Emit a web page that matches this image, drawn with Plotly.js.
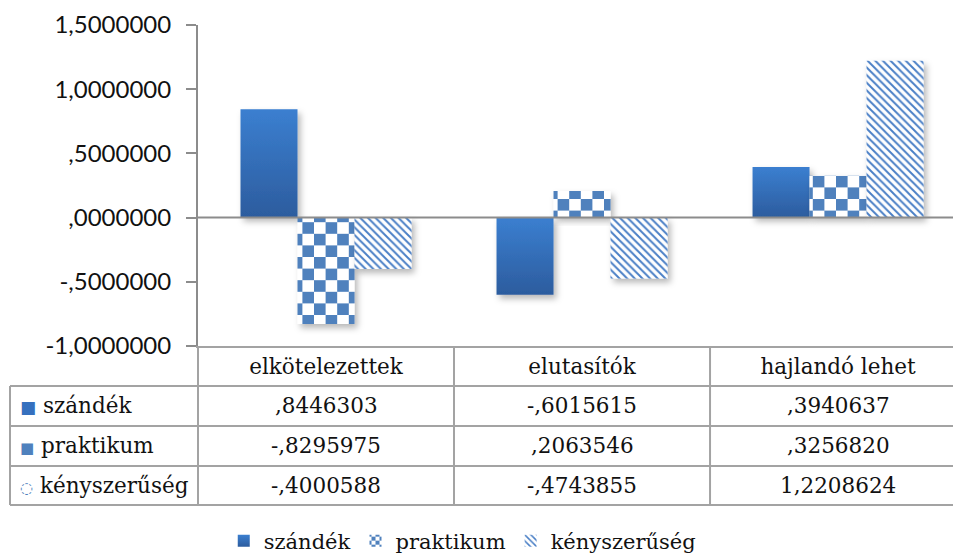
<!DOCTYPE html>
<html>
<head>
<meta charset="utf-8">
<script src="https://cdn.plot.ly/plotly-3.0.1.min.js"></script>
<style>
html,body{margin:0;padding:0;background:#fff;}
#chart{width:953px;height:555px;}
</style>
</head>
<body>
<div id="chart"></div>
<script>
// ---- data ----
var categories = ["elkötelezettek", "elutasítók", "hajlandó lehet"];
var seriesNames = ["szándék", "praktikum", "kényszerűség"];
var szandek = [0.8446303, -0.6015615, 0.3940637];
var praktikum = [-0.8295975, 0.2063546, 0.3256820];
var kenyszeruseg = [-0.4000588, -0.4743855, 1.2208624];
var yTickVals = [-1, -0.5, 0, 0.5, 1, 1.5];
var yTickText = ["-1,0000000", "-,5000000", ",0000000", ",5000000", "1,0000000", "1,5000000"];

var seriesValues = [szandek, praktikum, kenyszeruseg];

function fmt(v) {
  var s = Math.abs(v).toFixed(7).replace('.', ',');
  if (s.charAt(0) === '0') s = s.slice(1);
  return (v < 0 ? '-' : '') + s;
}

var serif = "DejaVu Serif, serif";
var gridColor = "#a3a3a3";
var blue = "#4f81bd";
var tableFontSize = 21.5;

var traces = [
  {type: 'bar', name: seriesNames[0], x: categories, y: szandek,
   marker: {color: '#3670be', line: {width: 0}}},
  {type: 'bar', name: seriesNames[1], x: categories, y: praktikum,
   marker: {color: blue, line: {width: 0},
            pattern: {shape: '+', size: 23.2, solidity: 0.5, fgcolor: blue, bgcolor: '#ffffff'}}},
  {type: 'bar', name: seriesNames[2], x: categories, y: kenyszeruseg,
   marker: {color: blue, line: {width: 0},
            pattern: {shape: '\\', size: 5.4, solidity: 0.36, fgcolor: '#4a7fc6', bgcolor: '#ffffff'}}}
];

// table geometry (paper coords relative to plot area)
var rowLines = [-0.1246, -0.2492, -0.3738, -0.4953];
var rowCenters = [-0.1869, -0.3115, -0.4346];
var tableLeft = -0.249;

var shapes = [];
rowLines.forEach(function (y) {
  shapes.push({type: 'line', xref: 'paper', yref: 'paper', x0: tableLeft, x1: 1, y0: y, y1: y,
               line: {color: gridColor, width: 2}});
});
shapes.push({type: 'line', xref: 'paper', yref: 'paper', x0: tableLeft, x1: tableLeft, y0: rowLines[0], y1: rowLines[3],
             line: {color: gridColor, width: 2}});
shapes.push({type: 'line', xref: 'paper', yref: 'paper', x0: 0, x1: 0, y0: 0, y1: rowLines[3],
             line: {color: gridColor, width: 2}});
for (var c = 0; c < categories.length - 1; c++) {
  shapes.push({type: 'line', xref: 'x', yref: 'paper', x0: c + 0.5, x1: c + 0.5, y0: 0, y1: rowLines[3],
               line: {color: gridColor, width: 2}});
}
shapes.push({type: 'line', xref: 'paper', yref: 'y', x0: 0, x1: 1, y0: 0, y1: 0, layer: 'above',
             line: {color: '#8c8c8c', width: 2}});

var annotations = [];
var keyGlyphs = [
  '<span style="color:#3670be;font-size:17px">■</span>',
  '<span style="color:#4f81bd;font-size:15px">■</span>',
  '<span style="color:#4f81bd;font-size:15px">◌</span>'
];
for (var s = 0; s < seriesNames.length; s++) {
  annotations.push({xref: 'paper', yref: 'paper', x: -0.2385, y: rowCenters[s], xanchor: 'left', yanchor: 'middle',
                    showarrow: false, text: keyGlyphs[s] + ' ' + seriesNames[s],
                    font: {family: serif, size: tableFontSize, color: '#111'}});
  for (var k = 0; k < categories.length; k++) {
    annotations.push({xref: 'x', yref: 'paper', x: k, y: rowCenters[s], xanchor: 'center', yanchor: 'middle',
                      showarrow: false, text: fmt(seriesValues[s][k]),
                      font: {family: serif, size: tableFontSize, color: '#111'}});
  }
}

var layout = {
  width: 953, height: 555,
  margin: {l: 198, r: 0, t: 25, b: 209, pad: 0, autoexpand: false},
  paper_bgcolor: '#ffffff', plot_bgcolor: '#ffffff',
  barmode: 'group', bargap: 0.332, bargroupgap: 0,
  showlegend: true,
  legend: {orientation: 'h', x: 0.35, xanchor: 'center', y: -0.6075, yanchor: 'middle',
           font: {family: serif, size: 21, color: '#111'}, traceorder: 'normal',
           itemwidth: 30, tracegroupgap: 0},
  xaxis: {type: 'category', range: [-0.5, 2.449], showgrid: false, zeroline: false,
          showline: true, linecolor: gridColor, linewidth: 2, ticks: '',
          tickfont: {family: serif, size: tableFontSize, color: '#111'}, ticklabelstandoff: 0,
          fixedrange: true},
  yaxis: {range: [-1, 1.5], tickvals: yTickVals, ticktext: yTickText,
          showgrid: false, zeroline: false, showline: true, linecolor: '#8c8c8c', linewidth: 2,
          ticks: 'outside', ticklen: 10, tickcolor: '#8c8c8c', tickwidth: 2,
          tickfont: {family: 'Lato, sans-serif', size: 24, color: '#111'}, ticklabelstandoff: 10,
          fixedrange: true},
  shapes: shapes,
  annotations: annotations
};

var gd = document.getElementById('chart');
Plotly.newPlot(gd, traces, layout, {staticPlot: true, displayModeBar: false}).then(function () {
  var NS = 'http://www.w3.org/2000/svg';
  var svg = gd.querySelector('svg.main-svg');
  var defs = svg.querySelector('defs');
  var grad = document.createElementNS(NS, 'linearGradient');
  grad.setAttribute('id', 'szGrad');
  grad.setAttribute('x1', '0'); grad.setAttribute('y1', '0');
  grad.setAttribute('x2', '0'); grad.setAttribute('y2', '1');
  [['0', '#3b7fd0'], ['1', '#2c5c9e']].forEach(function (st) {
    var stop = document.createElementNS(NS, 'stop');
    stop.setAttribute('offset', st[0]); stop.setAttribute('stop-color', st[1]);
    grad.appendChild(stop);
  });
  defs.appendChild(grad);
  var filt = document.createElementNS(NS, 'filter');
  filt.setAttribute('id', 'barShadow');
  filt.setAttribute('x', '-20%'); filt.setAttribute('y', '-20%');
  filt.setAttribute('width', '150%'); filt.setAttribute('height', '150%');
  var ds = document.createElementNS(NS, 'feDropShadow');
  ds.setAttribute('dx', '3'); ds.setAttribute('dy', '4'); ds.setAttribute('stdDeviation', '3');
  ds.setAttribute('flood-color', '#000'); ds.setAttribute('flood-opacity', '0.28');
  filt.appendChild(ds);
  defs.appendChild(filt);

  function checkerize(pat) {
    if (!pat || pat.getAttribute('data-checker')) return;
    var size = parseFloat(pat.getAttribute('width'));
    var half = size / 2;
    while (pat.firstChild) pat.removeChild(pat.firstChild);
    var bg = document.createElementNS(NS, 'rect');
    bg.setAttribute('width', size); bg.setAttribute('height', size); bg.setAttribute('fill', '#ffffff');
    pat.appendChild(bg);
    [[0, 0], [half, half]].forEach(function (xy) {
      var r = document.createElementNS(NS, 'rect');
      r.setAttribute('x', xy[0]); r.setAttribute('y', xy[1]);
      r.setAttribute('width', half); r.setAttribute('height', half);
      r.setAttribute('fill', '#4f81bd');
      pat.appendChild(r);
    });
    pat.setAttribute('data-checker', '1');
  }
  function patternOf(el) {
    var f = el.style.fill || el.getAttribute('fill') || '';
    var m = f.match(/#([^"')]+)/);
    if (!m) return null;
    return document.getElementById(m[1]);
  }

  var barTraces = gd.querySelectorAll('.barlayer .trace');
  barTraces.forEach(function (t, i) {
    t.querySelectorAll('.point').forEach(function (p) {
      p.setAttribute('filter', 'url(#barShadow)');
      var path = p.tagName.toLowerCase() === 'path' ? p : p.querySelector('path');
      if (!path) return;
      if (i === 0) path.style.fill = 'url(#szGrad)';
      if (i === 1) checkerize(patternOf(path));
    });
  });
  var legTraces = gd.querySelectorAll('.legend .traces');
  if (legTraces[0]) {
    var lp = legTraces[0].querySelector('.legendpoints path');
    if (lp) lp.style.fill = 'url(#szGrad)';
  }
  if (legTraces[1]) {
    var lp2 = legTraces[1].querySelector('.legendpoints path');
    if (lp2) checkerize(patternOf(lp2));
  }
});
</script>
</body>
</html>
